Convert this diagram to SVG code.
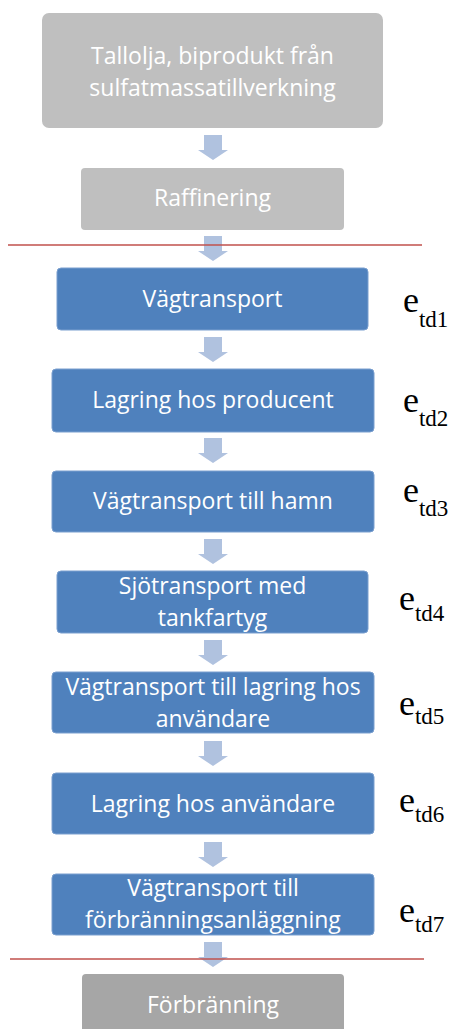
<svg xmlns="http://www.w3.org/2000/svg" width="449" height="1029" viewBox="0 0 449 1029">
<style>
.g{fill:#bfbfbf}
.g2{fill:#a6a6a6}
.b{fill:#4f81bd;stroke:#7a9fcf;stroke-width:1}
.t{font-family:"Open Sans","Noto Sans",sans-serif;font-size:23px;fill:#ffffff;text-anchor:middle}
.e{font-family:"Liberation Serif","Times New Roman",serif;font-size:36px;fill:#000}
.s{font-size:23px}
.ar{fill:#b0c2df}
.rl{stroke:#c0504d;stroke-width:1.5}
</style>
<defs>
<path id="arr" d="M-9,0 H9 V15 H15 L0,25 L-15,15 H-9 Z"/>
</defs>
<g id="connectors">
<use href="#arr" class="ar" x="213" y="135"/>
<use href="#arr" class="ar" x="213" y="236"/>
<use href="#arr" class="ar" x="213" y="337"/>
<use href="#arr" class="ar" x="213" y="438"/>
<use href="#arr" class="ar" x="213" y="539"/>
<use href="#arr" class="ar" x="213" y="640"/>
<use href="#arr" class="ar" x="213" y="741"/>
<use href="#arr" class="ar" x="213" y="842"/>
<use href="#arr" class="ar" x="213" y="942"/>
</g>
<g id="n1"><rect class="g" x="42" y="13" width="341" height="115" rx="7"/>
<text class="t" x="212.5" y="64">Tallolja, biprodukt från</text>
<text class="t" x="212.5" y="96">sulfatmassatillverkning</text></g>
<g id="n2"><rect class="g" x="81" y="168" width="263" height="62" rx="4"/>
<text class="t" x="212.5" y="206">Raffinering</text></g>
<g id="n3"><rect class="b" x="57" y="268" width="311" height="62" rx="4"/>
<text class="t" x="212.5" y="307">Vägtransport</text></g>
<g id="n4"><rect class="b" x="52" y="369" width="322" height="63" rx="4"/>
<text class="t" x="213" y="408">Lagring hos producent</text></g>
<g id="n5"><rect class="b" x="52" y="471" width="322" height="61" rx="4"/>
<text class="t" x="213" y="509">Vägtransport till hamn</text></g>
<g id="n6"><rect class="b" x="57" y="571" width="311" height="62" rx="4"/>
<text class="t" x="212.5" y="594">Sjötransport med</text>
<text class="t" x="212.5" y="626">tankfartyg</text></g>
<g id="n7"><rect class="b" x="52" y="672" width="322" height="61" rx="4"/>
<text class="t" x="213" y="695">Vägtransport till lagring hos</text>
<text class="t" x="213" y="727">användare</text></g>
<g id="n8"><rect class="b" x="52" y="773" width="322" height="61" rx="4"/>
<text class="t" x="213" y="812">Lagring hos användare</text></g>
<g id="n9"><rect class="b" x="52" y="874" width="322" height="61" rx="4"/>
<text class="t" x="213" y="896">Vägtransport till</text>
<text class="t" x="213" y="928">förbränningsanläggning</text></g>
<g id="n10"><rect class="g2" x="82" y="974" width="262" height="70" rx="4"/>
<text class="t" x="213" y="1013">Förbränning</text></g>
<g id="labels">
<text class="e" x="403" y="312">e<tspan class="s" dy="15">td1</tspan></text>
<text class="e" x="403" y="412">e<tspan class="s" dy="14">td2</tspan></text>
<text class="e" x="403" y="502">e<tspan class="s" dy="14">td3</tspan></text>
<text class="e" x="399" y="610">e<tspan class="s" dy="11">td4</tspan></text>
<text class="e" x="399" y="715">e<tspan class="s" dy="9">td5</tspan></text>
<text class="e" x="399" y="812">e<tspan class="s" dy="10">td6</tspan></text>
<text class="e" x="399" y="922">e<tspan class="s" dy="10">td7</tspan></text>
</g>
<g id="lines">
<line class="rl" x1="8" y1="245" x2="422" y2="245"/>
<line class="rl" x1="10" y1="959" x2="424" y2="959"/>
</g>
</svg>
